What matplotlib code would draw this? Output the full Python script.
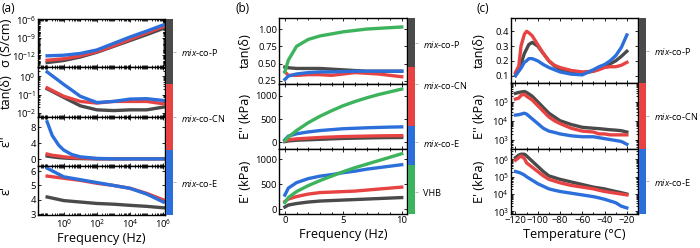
import numpy as np
import matplotlib
matplotlib.use("Agg")
import matplotlib.pyplot as plt
from matplotlib.ticker import LogLocator, NullFormatter, FixedLocator

plt.rcParams['font.family'] = ['Open Sans', 'DejaVu Sans']
plt.rcParams['mathtext.fontset'] = 'custom'
plt.rcParams['mathtext.rm'] = 'Open Sans'
plt.rcParams['mathtext.it'] = 'Open Sans:italic'

GRAY = '#4a4a4a'
RED = '#e84343'
BLUE = '#2c6fdb'
GREEN = '#3cb35c'

# ---- (a) dielectric spectroscopy ----
freq_a = [1e-1, 1e0, 1e1, 1e2, 1e3, 1e4, 1e5, 1e6]
# log10 of conductivity (S/cm)
sig_P = [-13.25, -12.9, -12.3, -11.5, -10.5, -9.5, -8.5, -7.45]
sig_CN = [-12.85, -12.6, -12.1, -11.4, -10.4, -9.3, -8.2, -7.15]
sig_E = [-12.1, -12.0, -11.7, -11.1, -10.0, -8.9, -7.9, -6.85]
# log10 of tan(delta)
tan_a_P = [-0.68, -1.15, -1.61, -1.83, -1.87, -1.83, -1.83, -1.68]
tan_a_CN = [-0.63, -1.09, -1.37, -1.46, -1.37, -1.37, -1.37, -1.5]
tan_a_E = [0.24, -0.44, -1.09, -1.43, -1.37, -1.24, -1.22, -1.32]
# eps'' (denser at low frequency)
freq_e2 = [1e-1, 2e-1, 5e-1, 1e0, 3e0, 1e1, 1e2, 1e3, 1e4, 1e5, 1e6]
eps2_P = [0.8, 0.6, 0.4, 0.3, 0.2, 0.15, 0.1, 0.1, 0.1, 0.1, 0.1]
eps2_CN = [1.3, 1.0, 0.8, 0.6, 0.4, 0.3, 0.15, 0.15, 0.15, 0.15, 0.15]
eps2_E = [9.4, 6.0, 3.5, 2.3, 1.2, 0.6, 0.2, 0.1, 0.1, 0.1, 0.1]
# eps'
eps1_P = [4.2, 3.95, 3.85, 3.75, 3.7, 3.62, 3.55, 3.45]
eps1_CN = [5.65, 5.5, 5.35, 5.15, 5.0, 4.8, 4.45, 4.0]
eps1_E = [6.2, 5.6, 5.4, 5.2, 5.0, 4.8, 4.4, 3.85]

# ---- (b) rheology vs frequency ----
freq_b = [0, 0.3, 1, 2, 3, 4, 5, 6, 7, 8, 9, 10]
tan_b_P = [0.45, 0.44, 0.43, 0.43, 0.43, 0.42, 0.41, 0.40, 0.39, 0.39, 0.39, 0.39]
tan_b_CN = [0.38, 0.33, 0.33, 0.34, 0.34, 0.33, 0.35, 0.37, 0.36, 0.35, 0.33, 0.31]
tan_b_E = [0.27, 0.32, 0.35, 0.37, 0.38, 0.38, 0.385, 0.39, 0.39, 0.39, 0.39, 0.39]
tan_b_VHB = [0.38, 0.55, 0.75, 0.85, 0.9, 0.93, 0.96, 0.98, 1.0, 1.01, 1.02, 1.03]
E2_b_P = [10, 25, 40, 50, 60, 70, 80, 85, 90, 95, 98, 100]
E2_b_CN = [30, 50, 70, 85, 100, 110, 120, 125, 130, 135, 138, 140]
E2_b_E = [50, 130, 180, 220, 250, 270, 290, 300, 310, 318, 325, 330]
E2_b_VHB = [30, 110, 250, 420, 560, 680, 790, 880, 960, 1030, 1090, 1150]
E1_b_P = [40, 80, 110, 140, 160, 170, 180, 190, 200, 210, 220, 230]
E1_b_CN = [150, 200, 250, 300, 330, 340, 350, 360, 380, 400, 420, 440]
E1_b_E = [280, 420, 530, 610, 660, 690, 730, 760, 800, 830, 860, 890]
E1_b_VHB = [130, 230, 350, 470, 570, 660, 750, 830, 900, 970, 1040, 1110]

# ---- (c) DMA vs temperature ----
temp = [-120, -117, -115, -112, -110, -108, -105, -100, -95, -90, -85, -80,
        -70, -60, -50, -45, -40, -35, -30, -25, -20]
tan_c_P = [0.10, 0.14, 0.18, 0.25, 0.28, 0.31, 0.325, 0.30, 0.25, 0.20, 0.165, 0.145,
           0.125, 0.115, 0.13, 0.145, 0.16, 0.18, 0.20, 0.23, 0.265]
tan_c_CN = [0.12, 0.165, 0.30, 0.38, 0.40, 0.39, 0.37, 0.31, 0.25, 0.20, 0.17, 0.155,
            0.135, 0.125, 0.13, 0.14, 0.155, 0.16, 0.16, 0.17, 0.19]
tan_c_E = [0.10, 0.13, 0.15, 0.19, 0.20, 0.215, 0.215, 0.20, 0.175, 0.155, 0.14, 0.125,
           0.11, 0.105, 0.14, 0.16, 0.175, 0.2, 0.235, 0.29, 0.375]
# log10 E'' (kPa)
E2_c_P = [5.45, 5.5, 5.52, 5.55, 5.5, 5.42, 5.3, 5.0, 4.7, 4.4, 4.2, 4.0,
          3.8, 3.65, 3.6, 3.58, 3.55, 3.52, 3.5, 3.47, 3.4]
E2_c_CN = [5.15, 5.2, 5.35, 5.4, 5.3, 5.22, 5.1, 4.8, 4.5, 4.2, 4.0, 3.85,
           3.6, 3.45, 3.4, 3.3, 3.3, 3.25, 3.25, 3.25, 3.25]
E2_c_E = [4.3, 4.32, 4.35, 4.4, 4.35, 4.25, 4.1, 3.85, 3.6, 3.45, 3.38, 3.3,
          3.2, 3.15, 3.15, 3.1, 3.05, 3.0, 2.95, 2.9, 2.75]
# log10 E' (kPa)
E1_c_P = [6.1, 6.25, 6.3, 6.3, 6.2, 6.08, 5.9, 5.6, 5.3, 5.05, 4.95, 4.85,
          4.7, 4.55, 4.4, 4.35, 4.3, 4.22, 4.15, 4.08, 4.0]
E1_c_CN = [5.95, 6.1, 6.2, 6.05, 5.8, 5.7, 5.55, 5.3, 5.05, 4.85, 4.75, 4.65,
           4.5, 4.4, 4.3, 4.22, 4.15, 4.1, 4.05, 4.0, 3.95]
E1_c_E = [5.3, 5.25, 5.2, 5.1, 5.0, 4.92, 4.8, 4.6, 4.45, 4.3, 4.22, 4.15,
          4.05, 3.95, 3.85, 3.78, 3.7, 3.6, 3.5, 3.3, 3.2]

names_3 = [r'$\it{mix}$-co-P', r'$\it{mix}$-co-CN', r'$\it{mix}$-co-E']
names_4 = names_3 + ['VHB']

W, H = 700, 248
fig = plt.figure(figsize=(W / 100, H / 100), dpi=100)

TFS = 6.8
LFS = 9.2
LW = 2.4


def add_ax(x0, x1, y0, y1):
    return fig.add_axes([x0 / W, 1 - y1 / H, (x1 - x0) / W, (y1 - y0) / H])


def style(ax, bottom=False):
    ax.tick_params(which='both', direction='in', top=True, right=True,
                   labelsize=TFS, pad=1.5, width=0.6)
    ax.tick_params(which='major', length=2.5)
    ax.tick_params(which='minor', length=1.5)
    for s in ax.spines.values():
        s.set_linewidth(1.0)
    if not bottom:
        ax.tick_params(labelbottom=False)


def cbar(x0, y0, y1, colors, edges, ticks, labels):
    cax = add_ax(x0, x0 + 7, y0, y1)
    heights = np.diff(edges)
    cax.bar(0, heights, bottom=edges[:-1], color=colors, width=1, align='edge')
    cax.set_xlim(0, 1)
    cax.set_ylim(1, 0)
    cax.set_xticks([])
    cax.yaxis.tick_right()
    cax.set_yticks(ticks)
    cax.set_yticklabels(labels, fontsize=6.6)
    cax.tick_params(axis='y', length=2, width=0.5, color='#999999', pad=3.5)
    for s in cax.spines.values():
        s.set_visible(False)


# ===== panel (a) =====
rows_a = [(19, 67), (67, 117), (117, 166), (166, 215)]
axs_a = [add_ax(38, 165, r0, r1) for r0, r1 in rows_a]
fa = np.array(freq_a)
fe = np.array(freq_e2)

ax = axs_a[0]
for y, c in [(sig_P, GRAY), (sig_CN, RED), (sig_E, BLUE)]:
    ax.plot(fa, 10 ** np.array(y), color=c, lw=LW)
ax.set_yscale('log')
ax.set_ylim(1e-14, 10 ** -5.85)
ax.set_yticks([1e-12, 1e-9, 1e-6])
ax.set_ylabel('σ (S/cm)', fontsize=LFS)

ax = axs_a[1]
for y, c in [(tan_a_P, GRAY), (tan_a_CN, RED), (tan_a_E, BLUE)]:
    ax.plot(fa, 10 ** np.array(y), color=c, lw=LW)
ax.set_yscale('log')
ax.set_ylim(10 ** -2.22, 10 ** 0.51)
ax.set_yticks([1e-2, 1e-1, 1e0])
ax.set_ylabel('tan(δ)', fontsize=LFS)

ax = axs_a[2]
for y, c in [(eps2_P, GRAY), (eps2_CN, RED), (eps2_E, BLUE)]:
    ax.plot(fe, y, color=c, lw=LW)
ax.set_ylim(-1.7, 10.6)
ax.set_yticks([0, 4, 8])
ax.set_ylabel("ε''", fontsize=LFS)

ax = axs_a[3]
for y, c in [(eps1_P, GRAY), (eps1_CN, RED), (eps1_E, BLUE)]:
    ax.plot(fa, y, color=c, lw=LW)
ax.set_ylim(2.95, 6.35)
ax.set_yticks([3, 4, 5, 6])
ax.set_ylabel("ε'", fontsize=LFS)
ax.set_xlabel('Frequency (Hz)', fontsize=LFS, labelpad=2)

for i, ax in enumerate(axs_a):
    ax.set_xscale('log')
    ax.set_xlim(10 ** -1.55, 10 ** 6.1)
    ax.xaxis.set_major_locator(FixedLocator([1e0, 1e2, 1e4, 1e6]))
    ax.xaxis.set_minor_locator(LogLocator(base=10, subs=np.arange(1, 10), numticks=30))
    ax.xaxis.set_minor_formatter(NullFormatter())
    if ax.get_yscale() == 'log':
        ax.yaxis.set_minor_locator(LogLocator(base=10, subs=np.arange(1, 10), numticks=30))
        ax.yaxis.set_minor_formatter(NullFormatter())
    style(ax, bottom=(i == 3))
    ax.yaxis.set_label_coords(-0.2, 0.5)

cbar(166, 19, 215, [GRAY, RED, BLUE], [0, 1 / 3, 2 / 3, 1],
     [1 / 6, 0.5, 5 / 6], names_3)

# ===== panel (b) =====
rows_b = [(18, 84), (84, 149), (149, 214)]
axs_b = [add_ax(279, 407, r0, r1) for r0, r1 in rows_b]
sets_b = [
    [(tan_b_P, GRAY), (tan_b_CN, RED), (tan_b_E, BLUE), (tan_b_VHB, GREEN)],
    [(E2_b_P, GRAY), (E2_b_CN, RED), (E2_b_E, BLUE), (E2_b_VHB, GREEN)],
    [(E1_b_P, GRAY), (E1_b_CN, RED), (E1_b_E, BLUE), (E1_b_VHB, GREEN)],
]
for ax, series in zip(axs_b, sets_b):
    for y, c in series:
        ax.plot(freq_b, y, color=c, lw=LW)
    ax.set_xlim(-0.5, 10.45)
    ax.set_xticks([0, 5, 10])
    ax.set_xticks(np.arange(0, 11, 1), minor=True)

axs_b[0].set_ylim(0.205, 1.16)
axs_b[0].set_yticks([0.25, 0.5, 0.75, 1.0])
axs_b[0].set_yticklabels(['0.25', '0.50', '0.75', '1.00'])
axs_b[0].set_ylabel('tan(δ)', fontsize=LFS)
axs_b[1].set_ylim(-150, 1260)
axs_b[1].set_yticks([0, 500, 1000])
axs_b[1].set_ylabel("E'' (kPa)", fontsize=LFS)
axs_b[2].set_ylim(-100, 1205)
axs_b[2].set_yticks([0, 500, 1000])
axs_b[2].set_ylabel("E' (kPa)", fontsize=LFS)
axs_b[2].set_xlabel('Frequency (Hz)', fontsize=LFS, labelpad=2)
for i, ax in enumerate(axs_b):
    style(ax, bottom=(i == 2))
    ax.yaxis.set_label_coords(-0.21, 0.5)

cbar(408, 18, 214, [GRAY, RED, BLUE, GREEN], [0, 0.25, 0.55, 0.75, 1],
     [0.128, 0.337, 0.633, 0.888], names_4)

# ===== panel (c) =====
rows_c = [(18, 83), (83, 149), (149, 214)]
axs_c = [add_ax(511, 638, r0, r1) for r0, r1 in rows_c]

ax = axs_c[0]
for y, c in [(tan_c_P, GRAY), (tan_c_CN, RED), (tan_c_E, BLUE)]:
    ax.plot(temp, y, color=c, lw=LW)
ax.set_ylim(0.05, 0.49)
ax.set_yticks([0.1, 0.2, 0.3, 0.4])
ax.set_ylabel('tan(δ)', fontsize=LFS)

ax = axs_c[1]
for y, c in [(E2_c_P, GRAY), (E2_c_CN, RED), (E2_c_E, BLUE)]:
    ax.plot(temp, 10 ** np.array(y), color=c, lw=LW)
ax.set_yscale('log')
ax.set_ylim(10 ** 2.5, 10 ** 6.0)
ax.set_yticks([1e3, 1e4, 1e5])
ax.set_ylabel("E'' (kPa)", fontsize=LFS)

ax = axs_c[2]
for y, c in [(E1_c_P, GRAY), (E1_c_CN, RED), (E1_c_E, BLUE)]:
    ax.plot(temp, 10 ** np.array(y), color=c, lw=LW)
ax.set_yscale('log')
ax.set_ylim(10 ** 2.85, 10 ** 6.6)
ax.set_yticks([1e3, 1e4, 1e5, 1e6])
ax.set_ylabel("E' (kPa)", fontsize=LFS)
ax.set_xlabel('Temperature (°C)', fontsize=LFS, labelpad=2)

for i, ax in enumerate(axs_c):
    ax.set_xlim(-124, -10)
    ax.set_xticks([-120, -100, -80, -60, -40, -20])
    ax.set_xticks(np.arange(-120, -9, 10), minor=True)
    if ax.get_yscale() == 'log':
        ax.yaxis.set_minor_locator(LogLocator(base=10, subs=np.arange(1, 10), numticks=30))
        ax.yaxis.set_minor_formatter(NullFormatter())
    style(ax, bottom=(i == 2))
    ax.yaxis.set_label_coords(-0.2, 0.5)

cbar(639, 18, 214, [GRAY, RED, BLUE], [0, 1 / 3, 2 / 3, 1],
     [1 / 6, 0.5, 5 / 6], names_3)

for x, lab in [(2, '(a)'), (236, '(b)'), (477, '(c)')]:
    fig.text(x / W, 1 - 8 / H, lab, fontsize=8.5, va='center', ha='left')

fig.savefig('out.png', dpi=100)
